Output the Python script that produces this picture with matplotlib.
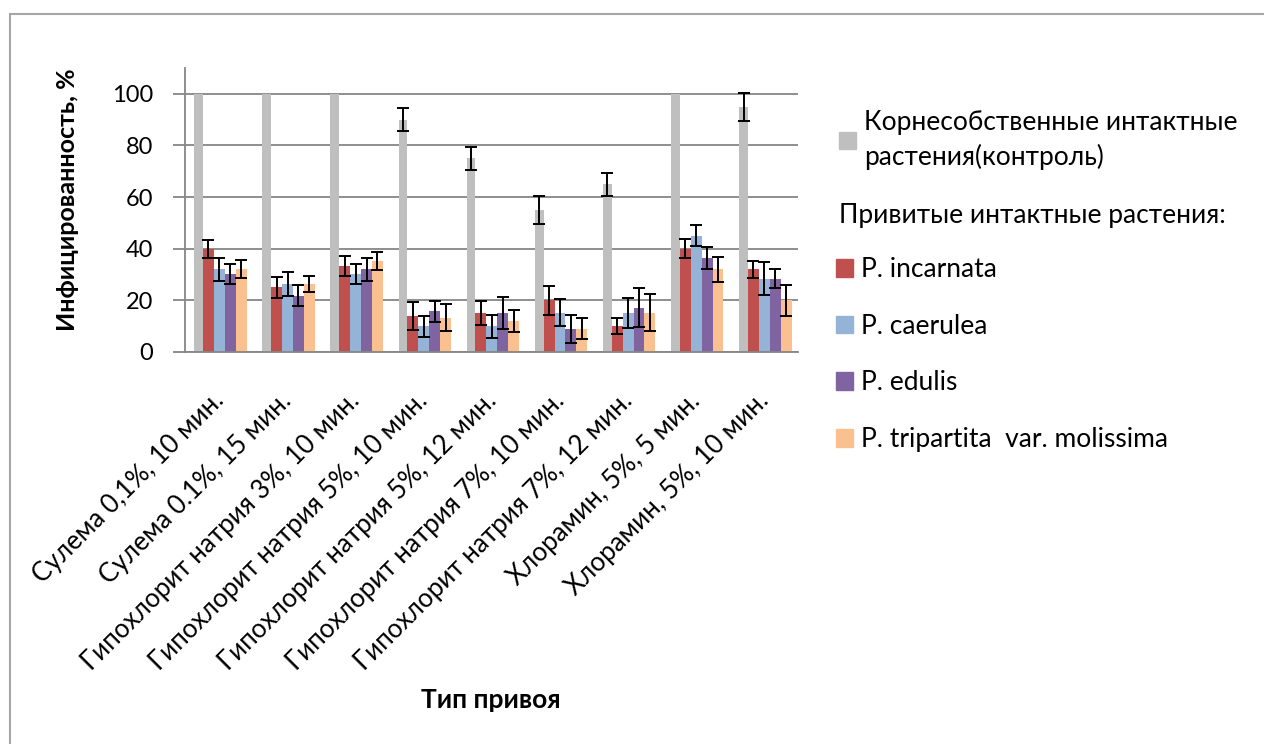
import numpy as np
import matplotlib.pyplot as plt
from matplotlib.patches import Patch, Rectangle
import matplotlib.transforms as mtransforms

plt.rcParams['font.family'] = ['Lato', 'Noto Sans', 'DejaVu Sans']

categories = ['Сулема 0,1%, 10 мин.', 'Сулема 0.1%, 15 мин.', 'Гипохлорит натрия 3%, 10 мин.',
              'Гипохлорит натрия 5%, 10 мин.', 'Гипохлорит натрия 5%, 12 мин.',
              'Гипохлорит натрия 7%, 10 мин.', 'Гипохлорит натрия 7%, 12 мин.',
              'Хлорамин, 5%, 5 мин.', 'Хлорамин, 5%, 10 мин.']

control = [100, 100, 100, 90, 75, 55, 65, 100, 95]
control_err = [0, 0, 0, 4.5, 4.4, 5.5, 4.4, 0, 5.4]

incarnata = [40, 25, 33.3, 14, 15.2, 20, 10.2, 40, 32]
incarnata_err = [3.4, 4.0, 3.8, 5.4, 4.6, 5.7, 3.1, 3.7, 3.3]
caerulea = [32, 26.3, 30.2, 10, 10, 15.2, 15.2, 45, 28.4]
caerulea_err = [4.6, 4.8, 4.0, 4.0, 4.4, 5.3, 5.9, 4.0, 6.3]
edulis = [30.2, 21.8, 32, 15.7, 15.2, 9, 17.1, 36.3, 28.4]
edulis_err = [3.8, 4.0, 4.4, 4.0, 6.2, 5.4, 7.5, 4.3, 3.8]
tripartita = [32, 26.3, 35.2, 13.3, 12, 9, 15.2, 32, 20]
tripartita_err = [3.5, 3.0, 3.5, 5.2, 4.2, 4.1, 7.2, 4.7, 6.1]

series = [('P. incarnata', incarnata, incarnata_err, '#C0504D'),
          ('P. caerulea', caerulea, caerulea_err, '#95B3D7'),
          ('P. edulis', edulis, edulis_err, '#8064A2'),
          ('P. tripartita  var. molissima', tripartita, tripartita_err, '#FAC090')]

fig = plt.figure(figsize=(12.64, 7.44), dpi=100)
ax = fig.add_axes([185/1264, 1-352/744, (798-185)/1264, (352-68)/744])

# chart border
fig.patches.append(Rectangle((10/1264, -0.1), 1.1, 1 - 14/744 + 0.1, transform=fig.transFigure,
                             fill=False, edgecolor='#A6A6A6', linewidth=1.5))

x = np.arange(len(categories))
ekw = dict(ecolor='black', elinewidth=1.4, capsize=4, capthick=1.4)

ax.bar(x - 0.3, control, width=0.13, color='#BFBFBF', zorder=2)
ce = np.array(control_err)
has_err = ce > 0
ax.errorbar((x - 0.3)[has_err], np.array(control)[has_err], yerr=ce[has_err],
            fmt='none', zorder=3, **ekw)

w = 0.16
for i, (name, vals, errs, col) in enumerate(series):
    pos = x - 0.155 + w * i
    ax.bar(pos, vals, width=w, color=col, zorder=2)
    ax.errorbar(pos, vals, yerr=errs, fmt='none', zorder=3, **ekw)

ax.set_xlim(-0.5, len(categories) - 0.5)
ax.set_ylim(0, 110)
ax.set_yticks(range(0, 101, 20))
ax.yaxis.grid(True, color='#868686', linewidth=1.3, zorder=0)
ax.set_axisbelow(True)
for s in ['top', 'right']:
    ax.spines[s].set_visible(False)
for s in ['left', 'bottom']:
    ax.spines[s].set_color('#868686')
    ax.spines[s].set_linewidth(1.3)
ax.tick_params(axis='y', length=9, width=1.3, color='#868686', pad=14, labelsize=17)
ax.tick_params(axis='x', length=0, pad=36)

ax.set_xticks(x)
ax.set_xticklabels(categories, rotation=45, ha='right', va='baseline', rotation_mode='anchor', fontsize=18.7)
offset = mtransforms.ScaledTranslation(0.06, 0, fig.dpi_scale_trans)
for lab in ax.get_xticklabels():
    lab.set_transform(lab.get_transform() + offset)

fig.text(68/1264, 1-200/744, 'Инфицированность, %', rotation=90, ha='center', va='center',
         fontsize=18, fontweight='bold')
fig.text(491/1264, 1-700/744, 'Тип привоя', ha='center', va='center', fontsize=19, fontweight='bold')

# legend
leg1 = fig.legend(handles=[Patch(color='#BFBFBF')],
                  labels=['Корнесобственные интактные\nрастения(контроль)'],
                  loc='upper left', bbox_to_anchor=(839/1264, 1-110/744), frameon=False,
                  borderpad=0, borderaxespad=0,
                  fontsize=19, handlelength=0.65, handleheight=0.65, handletextpad=0.3)
for t in leg1.get_texts():
    t.set_linespacing(1.4)
fig.text(839/1264, 1-215/744, 'Привитые интактные растения:', ha='left', va='center', fontsize=19)
fig.legend(handles=[Patch(color=c) for _, _, _, c in series],
           labels=[n for n, _, _, _ in series],
           loc='upper left', bbox_to_anchor=(836/1264, 1-257/744), frameon=False,
           borderpad=0, borderaxespad=0,
           fontsize=19, handlelength=0.65, handleheight=0.65, handletextpad=0.3, labelspacing=1.2)

fig.savefig('out.png', dpi=100)
